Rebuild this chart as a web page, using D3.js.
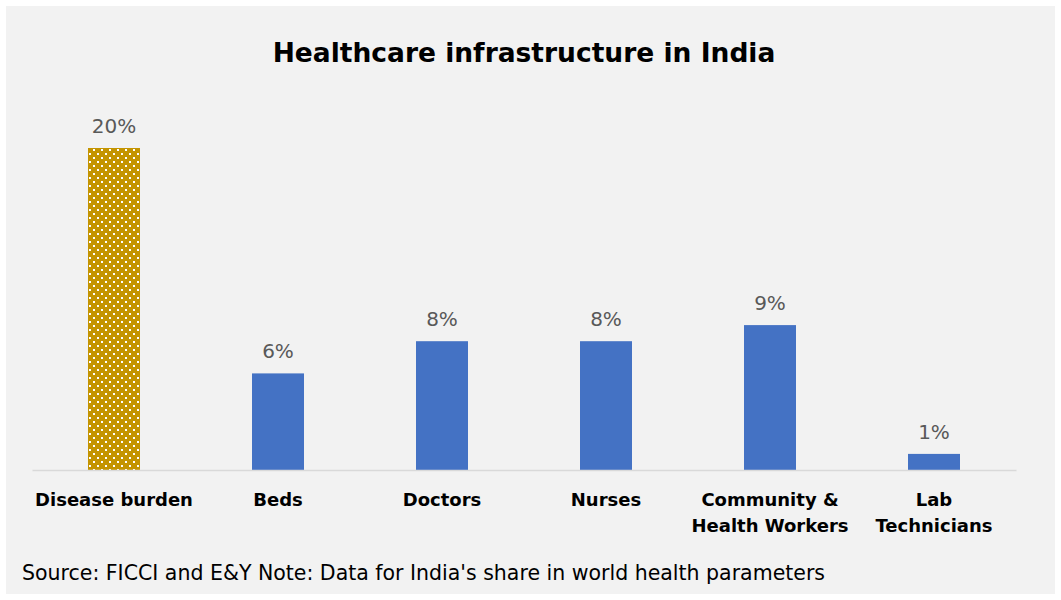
<!DOCTYPE html>
<html><head><meta charset="utf-8">
<script src="https://cdn.jsdelivr.net/npm/d3@7"></script>
<style>html,body{margin:0;padding:0;background:#fff;}</style>
</head><body>
<svg id="chart" width="1061" height="600"></svg>
<script>
const categories = ["Disease burden", "Beds", "Doctors", "Nurses", "Community &\nHealth Workers", "Lab\nTechnicians"];
const values = [20, 6, 8, 8, 9, 1];
const valueLabels = ["20%", "6%", "8%", "8%", "9%", "1%"];
const title = "Healthcare infrastructure in India";
const source = "Source: FICCI and E&Y Note: Data for India's share in world health parameters";

const FONT = "'DejaVu Sans', sans-serif";
const svg = d3.select("#chart");
svg.append("rect").attr("x", 6).attr("y", 6).attr("width", 1049).attr("height", 588).attr("fill", "#f2f2f2");

const defs = svg.append("defs");
const pat = defs.append("pattern").attr("id", "dots").attr("patternUnits", "userSpaceOnUse")
  .attr("width", 8).attr("height", 8);
pat.append("rect").attr("width", 8).attr("height", 8).attr("fill", "#c49400");
pat.append("rect").attr("x", 1).attr("y", 1).attr("width", 2).attr("height", 2).attr("fill", "#fff");
pat.append("rect").attr("x", 5).attr("y", 5).attr("width", 2).attr("height", 2).attr("fill", "#fff");

const x = d3.scaleBand().domain(categories).range([32, 1016]).paddingInner(0.683).paddingOuter(0.3415);
const y = d3.scaleLinear().domain([0, 20]).range([470, 148]);

svg.append("text").attr("x", 524).attr("y", 62).attr("text-anchor", "middle")
  .attr("font-family", FONT).attr("font-weight", "bold").attr("font-size", 26.5)
  .attr("fill", "#000").text(title);

svg.selectAll("rect.bar").data(values).enter().append("rect").attr("class", "bar")
  .attr("x", (d, i) => x(categories[i])).attr("width", x.bandwidth())
  .attr("y", d => y(d)).attr("height", d => y(0) - y(d))
  .attr("fill", (d, i) => i === 0 ? "url(#dots)" : "#4472c4");

svg.selectAll("text.val").data(values).enter().append("text").attr("class", "val")
  .attr("x", (d, i) => x(categories[i]) + x.bandwidth() / 2).attr("y", d => y(d) - 15)
  .attr("text-anchor", "middle").attr("font-family", FONT).attr("font-size", 20)
  .attr("fill", "#595959").text((d, i) => valueLabels[i]);

const axis = svg.append("g").attr("transform", "translate(0,470)")
  .call(d3.axisBottom(x).tickSize(0).tickFormat(""));
axis.select(".domain").attr("stroke", "#d9d9d9").attr("stroke-width", 1.5);

categories.forEach(c => {
  const lines = c.split("\n");
  const t = svg.append("text").attr("x", x(c) + x.bandwidth() / 2).attr("y", 506)
    .attr("text-anchor", "middle").attr("font-family", FONT).attr("font-weight", "bold")
    .attr("font-size", 18).attr("fill", "#000");
  lines.forEach((l, i) => t.append("tspan").attr("x", x(c) + x.bandwidth() / 2).attr("dy", i === 0 ? 0 : 26).text(l));
});

svg.append("text").attr("x", 22).attr("y", 580).attr("font-family", FONT)
  .attr("font-size", 20.5).attr("fill", "#000").text(source);
</script>
</body></html>
